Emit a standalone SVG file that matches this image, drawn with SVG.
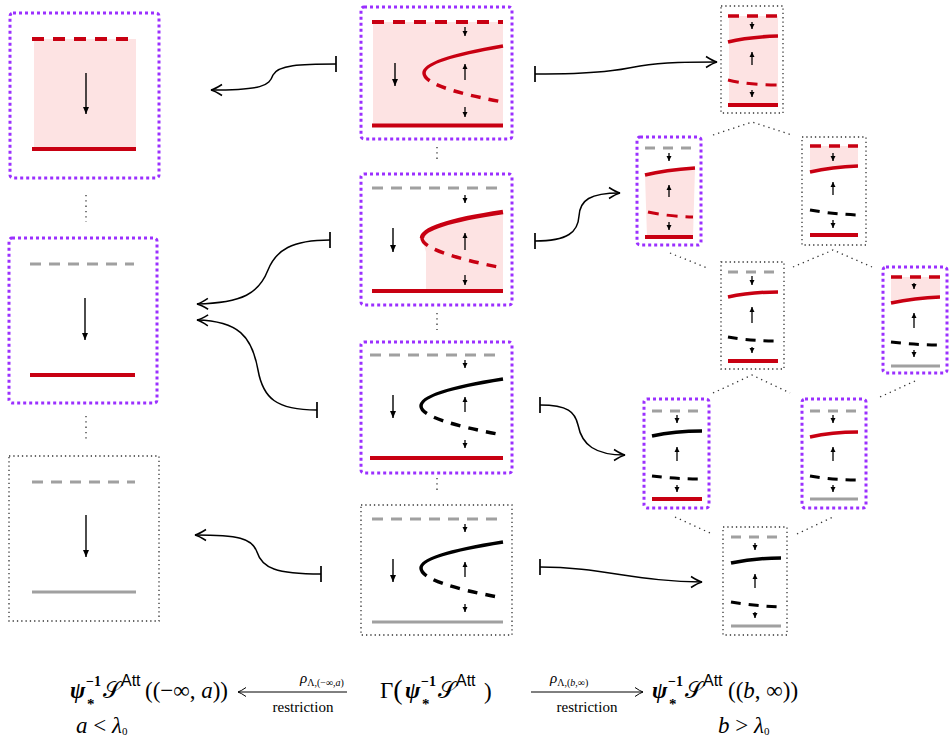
<svg xmlns="http://www.w3.org/2000/svg" width="949" height="738" viewBox="0 0 949 738">
<style>
.pb{fill:none;stroke:#9b30ff;stroke-width:3;stroke-dasharray:3 3}
.kb{fill:none;stroke:#333;stroke-width:1.3;stroke-dasharray:1.3 3}
.rs{fill:none;stroke:#c80012;stroke-width:4}
.rd{fill:none;stroke:#c80012;stroke-width:4;stroke-dasharray:12 9}
.rds{fill:none;stroke:#c80012;stroke-width:3.5;stroke-dasharray:11 8}
.gd{fill:none;stroke:#a0a0a0;stroke-width:3;stroke-dasharray:11 8}
.gds{fill:none;stroke:#a0a0a0;stroke-width:3;stroke-dasharray:10 8}
.gs{fill:none;stroke:#a0a0a0;stroke-width:3}
.pk{fill:#fde3e3;stroke:none}
.kc{fill:none;stroke:#000;stroke-width:3.5}
.kd{fill:none;stroke:#000;stroke-width:3.5;stroke-dasharray:10 8}
.rc{fill:none;stroke:#c80012;stroke-width:3.5}
.sa{fill:none;stroke:#000;stroke-width:1.3;marker-end:url(#ta)}
.ba{fill:none;stroke:#000;stroke-width:1.4;marker-end:url(#tb)}
.dl{fill:none;stroke:#333;stroke-width:1.3;stroke-dasharray:1.3 4}
.cn{fill:none;stroke:#000;stroke-width:1.5;marker-start:url(#bar);marker-end:url(#oa)}
.m{font-family:"Liberation Serif","DejaVu Serif",serif;font-size:23px;fill:#000}
.bi{font-weight:bold;font-style:italic}
.it{font-style:italic}
.sp{font-family:"Liberation Serif",serif;font-size:14px;font-weight:bold;fill:#000}
.st{font-family:"Liberation Serif",serif;font-size:15px;font-weight:bold;fill:#000}
.att{font-family:"Liberation Sans",sans-serif;font-size:16px;fill:#000}
.lb{font-family:"Liberation Serif",serif;font-size:15px;fill:#000}
</style>
<defs>
<marker id="ta" viewBox="-6 -3 7 6" refX="0" refY="0" markerWidth="7" markerHeight="6" markerUnits="userSpaceOnUse" orient="auto"><path d="M-5,-2.5 L0,0 L-5,2.5 Z" fill="#000"/></marker>
<marker id="tb" viewBox="-8 -4 9 8" refX="0" refY="0" markerWidth="9" markerHeight="8" markerUnits="userSpaceOnUse" orient="auto"><path d="M-7,-3 L0,0 L-7,3 Z" fill="#000"/></marker>
<marker id="oa" viewBox="-13 -7 15 14" refX="0" refY="0" markerWidth="15" markerHeight="14" markerUnits="userSpaceOnUse" orient="auto"><path d="M-11,-5.5 Q-4,-1 0,0 Q-4,1 -11,5.5" fill="none" stroke="#000" stroke-width="1.5"/></marker>
<marker id="bar" viewBox="-2 -10 4 20" refX="0" refY="0" markerWidth="4" markerHeight="20" markerUnits="userSpaceOnUse" orient="auto"><path d="M0,-8 V8" stroke="#000" stroke-width="1.7"/></marker>
<marker id="la" viewBox="-12 -6 14 12" refX="0" refY="0" markerWidth="14" markerHeight="12" markerUnits="userSpaceOnUse" orient="auto"><path d="M-8,-4.5 Q-3,-1 0,0 Q-3,1 -8,4.5" fill="none" stroke="#000" stroke-width="1"/></marker>
</defs>

<!-- left column -->
<g id="L1">
<rect class="pb" x="10" y="13" width="149" height="165" rx="3"/>
<rect class="pk" x="34" y="39" width="102" height="110"/>
<path class="rd" d="M32,39 H136"/>
<path class="rs" d="M32,149 H136"/>
<path class="ba" d="M86,73 V114"/>
</g>
<g id="L2">
<rect class="pb" x="9" y="238" width="148" height="165" rx="3"/>
<path class="gd" d="M30,264 H134"/>
<path class="ba" d="M85,298 V340"/>
<path class="rs" d="M30,375 H135"/>
</g>
<g id="L3">
<rect class="kb" x="9" y="456" width="150" height="165"/>
<path class="gd" d="M32,482 H135"/>
<path class="ba" d="M86,515 V557"/>
<path class="gs" d="M32,592 H136"/>
</g>

<!-- middle column -->
<g id="M1">
<rect class="pb" x="361" y="7" width="151" height="132" rx="3"/>
<rect class="pk" x="373" y="22" width="130" height="104"/>
<path class="rd" d="M372,22 H503"/>
<path class="rs" d="M372,125.5 H503"/>
<path class="rc" d="M503,46 Q424,59.5 424,73"/>
<path class="rd" style="stroke-width:3.5;stroke-dasharray:10 8" d="M424,73 Q424,87.5 503,102"/>
<path class="ba" d="M395,63 V86"/>
<path class="sa" d="M465,27 V36"/>
<path class="sa" d="M465,80 V64"/>
<path class="sa" d="M465,107 V117"/>
</g>
<g id="M2">
<rect class="pb" x="361" y="174" width="151" height="131" rx="3"/>
<path class="pk" d="M503,212 Q422,224 422,238 L426,252 L426,291 L503,291 Z"/>
<path class="gd" d="M372,188 H503"/>
<path class="rs" d="M372,291 H503"/>
<path class="rc" style="stroke-width:4.5" d="M503,212 Q422,224 422,238"/>
<path class="rd" style="stroke-width:3.5;stroke-dasharray:10 8" d="M422,238 Q422,252 503,268"/>
<path class="ba" d="M393,228 V252"/>
<path class="sa" d="M465,195 V203"/>
<path class="sa" d="M465,250 V233"/>
<path class="sa" d="M465,275 V285"/>
</g>
<g id="M3">
<rect class="pb" x="361" y="342" width="151" height="131" rx="3"/>
<path class="gd" d="M370,355 H503"/>
<path class="rs" d="M370,458 H503"/>
<path class="kc" d="M503,379 Q421,392 421,406"/>
<path class="kd" d="M421,406 Q421,420 503,435"/>
<path class="ba" d="M393,395 V418"/>
<path class="sa" d="M465,360 V368"/>
<path class="sa" d="M465,412 V397"/>
<path class="sa" d="M465,440 V448"/>
</g>
<g id="M4">
<rect class="kb" x="361" y="505" width="151" height="130"/>
<path class="gd" d="M372,519 H503"/>
<path class="gs" d="M372,622 H503"/>
<path class="kc" d="M503,542 Q421,555 421,568"/>
<path class="kd" d="M421,568 Q421,583 503,598"/>
<path class="ba" d="M393,559 V582"/>
<path class="sa" d="M465,524 V532"/>
<path class="sa" d="M465,577 V562"/>
<path class="sa" d="M465,604 V612"/>
</g>

<!-- right column -->
<g id="A">
<rect class="kb" x="721" y="6" width="62" height="107"/>
<rect class="pk" x="729" y="16" width="49" height="89"/>
<path class="rds" d="M728,16 H778"/>
<path class="rc" d="M728,42 Q748,37 778,36"/>
<path class="rds" style="stroke-width:3" d="M728,80 Q748,85 778,85"/>
<path class="rs" d="M728,105 H778"/>
<path class="sa" d="M752,22 V29"/>
<path class="sa" d="M752,65 V52"/>
<path class="sa" d="M752,90 V97"/>
</g>
<g id="B">
<rect class="pb" x="637" y="137" width="64" height="108" rx="3"/>
<path class="pk" d="M645,175 Q665,170 695,168 L693,237 L647,237 Z"/>
<path class="gds" d="M645,148 H693"/>
<path class="rc" d="M645,175 Q665,170 695,168"/>
<path class="rds" style="stroke-width:3" d="M648,212 Q665,216 693,217"/>
<path class="rs" d="M645,237 H693"/>
<path class="sa" d="M669,153 V161"/>
<path class="sa" d="M669,197 V185"/>
<path class="sa" d="M669,222 V230"/>
</g>
<g id="C">
<rect class="kb" x="802" y="137" width="64" height="108"/>
<path class="pk" d="M810,146 L858,146 L858,166 Q832,167 810,172 Z"/>
<path class="rds" d="M810,146 H858"/>
<path class="rc" d="M810,172 Q832,167 858,166"/>
<path class="kd" style="stroke-width:3" d="M810,210 Q832,214 858,215"/>
<path class="rs" d="M810,235 H858"/>
<path class="sa" d="M833,153 V161"/>
<path class="sa" d="M833,195 V182"/>
<path class="sa" d="M833,220 V228"/>
</g>
<g id="D">
<rect class="kb" x="721" y="262" width="63" height="107"/>
<path class="gds" d="M728,272 H778"/>
<path class="rc" d="M728,297 Q750,292 778,292"/>
<path class="kd" style="stroke-width:3" d="M728,337 Q750,341 778,341"/>
<path class="rs" d="M728,361 H778"/>
<path class="sa" d="M752,276 V285"/>
<path class="sa" d="M752,323 V307"/>
<path class="sa" d="M752,347 V353"/>
</g>
<g id="E">
<rect class="pb" x="883" y="267" width="64" height="106" rx="3"/>
<path class="pk" d="M891,277 L940,277 L940,297 Q915,298 891,303 Z"/>
<path class="rds" d="M891,277 H940"/>
<path class="rc" d="M891,303 Q915,298 940,297"/>
<path class="kd" style="stroke-width:3" d="M891,342 Q915,345 940,345"/>
<path class="gs" d="M891,366 H940"/>
<path class="sa" d="M914,283 V289"/>
<path class="sa" d="M914,328 V313"/>
<path class="sa" d="M914,350 V357"/>
</g>
<g id="F">
<rect class="pb" x="644" y="399" width="65" height="109" rx="3"/>
<path class="gds" d="M652,411 H700"/>
<path class="kc" d="M652,436 Q675,431 702,431"/>
<path class="kd" style="stroke-width:3" d="M652,476 Q675,479 702,479"/>
<path class="rs" d="M652,499 H702"/>
<path class="sa" d="M677,415 V423"/>
<path class="sa" d="M677,461 V447"/>
<path class="sa" d="M677,485 V492"/>
</g>
<g id="G">
<rect class="pb" x="802" y="399" width="64" height="109" rx="3"/>
<path class="gds" d="M810,411 H858"/>
<path class="rc" d="M810,437 Q832,432 858,432"/>
<path class="kd" style="stroke-width:3" d="M810,476 Q832,480 858,480"/>
<path class="gs" d="M810,499 H858"/>
<path class="sa" d="M833,415 V423"/>
<path class="sa" d="M833,461 V447"/>
<path class="sa" d="M833,485 V492"/>
</g>
<g id="H">
<rect class="kb" x="723" y="527" width="64" height="108"/>
<path class="gds" d="M731,537 H781"/>
<path class="kc" d="M731,563 Q754,558 781,558"/>
<path class="kd" style="stroke-width:3" d="M731,602 Q754,606 781,607"/>
<path class="gs" d="M731,626 H781"/>
<path class="sa" d="M755,543 V550"/>
<path class="sa" d="M755,588 V574"/>
<path class="sa" d="M755,612 V618"/>
</g>

<!-- dotted order lines -->
<g id="order-lines">
<path class="dl" d="M86,195 V222"/>
<path class="dl" d="M86,416 V442"/>
<path class="dl" d="M437,147 V162"/>
<path class="dl" d="M437,313 V330"/>
<path class="dl" d="M437,478 V494"/>
<path class="dl" d="M713,135 L752,122 L792,135"/>
<path class="dl" d="M670,253 L707,268"/>
<path class="dl" d="M793,267 L833,250 L872,267"/>
<path class="dl" d="M713,393 L752,375 L790,393"/>
<path class="dl" d="M915,381 L880,397"/>
<path class="dl" d="M675,517 L710,533"/>
<path class="dl" d="M797,534 L833,517"/>
</g>

<!-- connectors -->
<g id="connectors">
<path class="cn" d="M336,64 C300,64 278,65 273,75 C269,86 262,90 211,90"/>
<path class="cn" d="M330,240 C292,240 276,250 268,270 C259,293 243,303 197,304"/>
<path class="cn" d="M317,410 C276,410 263,398 258,370 C252,336 238,321 197,320"/>
<path class="cn" d="M321,574 C276,574 262,568 257,552 C252,538 238,535 195,535"/>
<path class="cn" d="M535,74 C600,74 620,70 640,66 C665,62 690,62 717,62"/>
<path class="cn" d="M535,241 C568,241 578,232 579,216 C580,200 590,193 620,193"/>
<path class="cn" d="M540,405 C568,405 575,412 578,425 C582,445 595,455 625,455"/>
<path class="cn" d="M540,567 C600,567 640,582 702,582"/>
<path fill="none" stroke="#000" stroke-width="1" marker-end="url(#la)" d="M347,692 H238"/>
<path fill="none" stroke="#000" stroke-width="1" marker-end="url(#la)" d="M531,692 H643"/>
</g>

<!-- bottom formula -->
<g id="formula">
<text class="m" x="70" y="698"><tspan class="bi">ψ</tspan></text>
<text class="sp" x="86" y="686">−1</text>
<text class="st" x="87" y="709">*</text>
<text class="m" x="103" y="698">𝒮</text>
<text class="att" x="121" y="686">Att</text>
<text class="m" x="145" y="698">((−∞, <tspan class="it">a</tspan>))</text>

<text class="lb" x="300" y="683"><tspan class="it">ρ</tspan><tspan font-size="10" dy="3">Λ,(−∞,</tspan><tspan font-size="10" class="it">a</tspan><tspan font-size="10">)</tspan></text>
<text class="lb" x="303" y="712" text-anchor="middle">restriction</text>

<text class="m" x="380" y="698">Γ<tspan font-size="28" dy="1">(</tspan></text>
<text class="m" x="405" y="698"><tspan class="bi">ψ</tspan></text>
<text class="sp" x="421" y="686">−1</text>
<text class="st" x="422" y="709">*</text>
<text class="m" x="438" y="698">𝒮</text>
<text class="att" x="456" y="686">Att</text>
<text class="m" x="484" y="699" font-size="28">)</text>

<text class="lb" x="550" y="683"><tspan class="it">ρ</tspan><tspan font-size="10" dy="3">Λ,(</tspan><tspan font-size="10" class="it">b</tspan><tspan font-size="10">,∞)</tspan></text>
<text class="lb" x="587" y="712" text-anchor="middle">restriction</text>

<text class="m" x="652" y="698"><tspan class="bi">ψ</tspan></text>
<text class="sp" x="668" y="686">−1</text>
<text class="st" x="669" y="709">*</text>
<text class="m" x="685" y="698">𝒮</text>
<text class="att" x="703" y="686">Att</text>
<text class="m" x="728" y="698">((<tspan class="it">b</tspan>, ∞))</text>

<text class="m" x="76" y="733" font-size="18"><tspan class="it">a</tspan> &lt; <tspan class="it">λ</tspan><tspan font-size="11" dy="2">0</tspan></text>
<text class="m" x="718" y="733" font-size="18"><tspan class="it">b</tspan> &gt; <tspan class="it">λ</tspan><tspan font-size="11" dy="2">0</tspan></text>
</g>
</svg>
